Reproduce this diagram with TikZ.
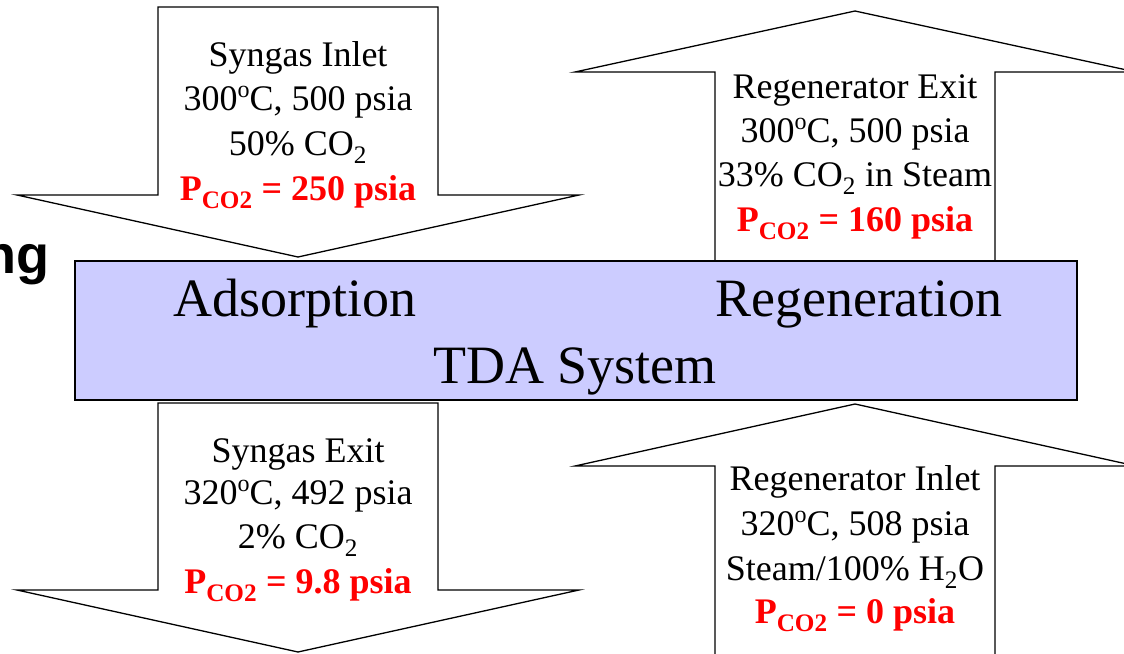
\documentclass[tikz,border=0pt]{standalone}
\usepackage{fontspec}
\setmainfont{Liberation Serif}
\newfontfamily\arialfont{Liberation Sans}
\usepackage{xcolor}
\definecolor{boxfill}{HTML}{CCCCFF}
\definecolor{pred}{HTML}{FF0000}
\newcommand\pcoline[1]{\textcolor{pred}{\bfseries P\textsubscript{CO2} = #1 psia}}
\newcommand\degc{\raisebox{0.36em}{\fontsize{24}{24}\selectfont o}C}
\begin{document}
\begin{tikzpicture}[x=1pt,y=-1pt,
  blockarrow/.style={draw=black,fill=white,line width=1.3pt,line join=miter},
  lbl/.style={inner sep=0pt,anchor=base,font=\fontsize{36}{44}\selectfont},
  big/.style={inner sep=0pt,anchor=base,font=\fontsize{54}{60}\selectfont}]
\useasboundingbox (0,0) rectangle (1124,653);
% top-left down arrow (Syngas Inlet)
\draw[blockarrow] (158,7) -- (438,7) -- (438,195) -- (579,195) -- (298,257) -- (17,195) -- (158,195) -- cycle;
% top-right up arrow (Regenerator Exit)
\draw[blockarrow] (715,261) -- (715,72) -- (575,72) -- (855,11) -- (1136,72) -- (995,72) -- (995,261);
% bottom-left down arrow (Syngas Exit)
\draw[blockarrow] (158,403) -- (438,403) -- (438,590) -- (579,590) -- (298,652) -- (17,590) -- (158,590) -- cycle;
% bottom-right up arrow (Regenerator Inlet)
\draw[blockarrow] (715,665) -- (715,466) -- (575,466) -- (855,404) -- (1136,466) -- (995,466) -- (995,665);
% TDA system box
\draw[fill=boxfill,line width=1.3pt] (75,261) rectangle (1077,400);
\node[big] (ads) at (295,316) {Adsorption};
\node[big] (reg) at (859,316) {Regeneration};
\node[big] (tda) at (575,383) {TDA System};
% labels
\node[lbl] (tl1) at (298,66) {Syngas Inlet};
\node[lbl] (tl2) at (298,110) {300\degc, 500 psia};
\node[lbl] (tl3) at (298,155) {50\% CO\textsubscript{2}};
\node[lbl] (tl4) at (298,200) {\pcoline{250}};
\node[lbl] (tr1) at (855,98) {Regenerator Exit};
\node[lbl] (tr2) at (855,142) {300\degc, 500 psia};
\node[lbl] (tr3) at (855,186) {33\% CO\textsubscript{2} in Steam};
\node[lbl] (tr4) at (855,231) {\pcoline{160}};
\node[lbl] (bl1) at (298,462) {Syngas Exit};
\node[lbl] (bl2) at (298,504) {320\degc, 492 psia};
\node[lbl] (bl3) at (298,548) {2\% CO\textsubscript{2}};
\node[lbl] (bl4) at (298,593) {\pcoline{9.8}};
\node[lbl] (br1) at (855,490) {Regenerator Inlet};
\node[lbl] (br2) at (855,535) {320\degc, 508 psia};
\node[lbl] (br3) at (855,580) {Steam/100\% H\textsubscript{2}O};
\node[lbl] (br4) at (855,623) {\pcoline{0}};
\node[inner sep=0pt,anchor=base east,font=\arialfont\bfseries\fontsize{54}{60}\selectfont] (ng) at (50,273) {ng};
\end{tikzpicture}
\end{document}
